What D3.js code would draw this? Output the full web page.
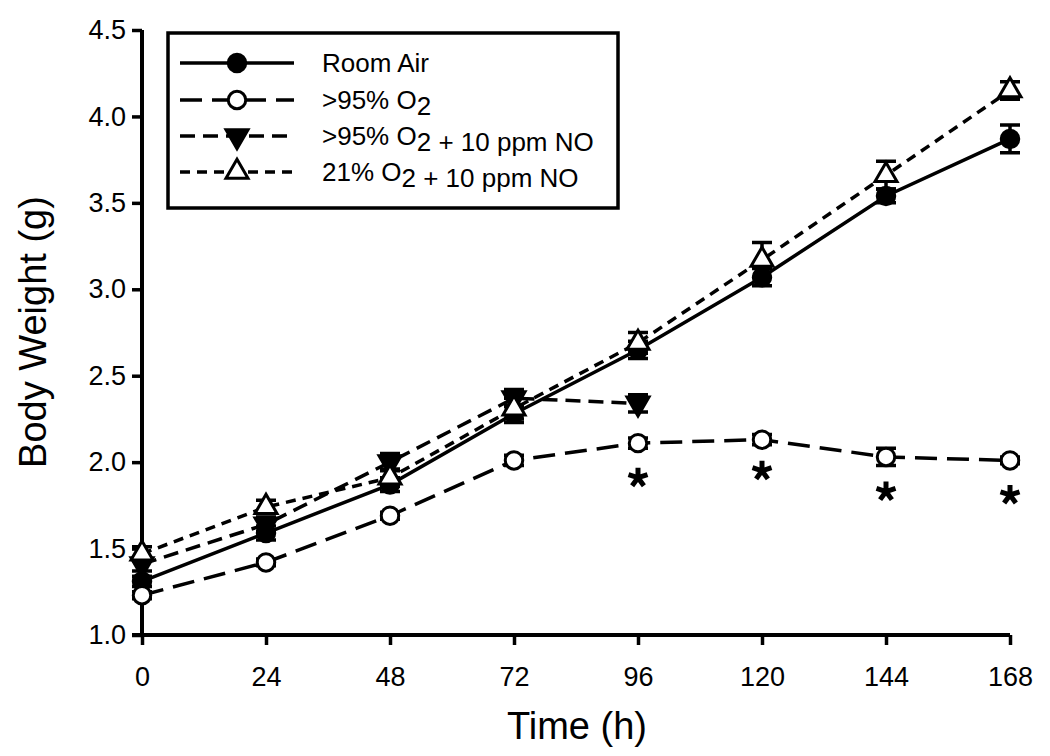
<!DOCTYPE html>
<html><head><meta charset="utf-8">
<script src="https://cdn.jsdelivr.net/npm/d3@7"></script>
<style>body{margin:0;background:#fff}svg{display:block}text{font-family:"Liberation Sans",Arial,sans-serif}</style>
</head><body><svg id="c" width="1050" height="756"></svg>
<script>
const times = [0, 24, 48, 72, 96, 120, 144, 168];
const xTicks = [0, 24, 48, 72, 96, 120, 144, 168];
const yTicks = [1.0, 1.5, 2.0, 2.5, 3.0, 3.5, 4.0, 4.5];
const roomAir    = [1.31, 1.59, 1.87, 2.28, 2.65, 3.07, 3.54, 3.87];
const roomAirErr = [0.03, 0.04, 0.04, 0.05, 0.05, 0.05, 0.04, 0.08];
const o2         = [1.23, 1.42, 1.69, 2.01, 2.11, 2.13, 2.03, 2.01];
const o2Err      = [0.02, 0.02, 0.02, 0.03, 0.03, 0.03, 0.05, 0.02];
const o2NO       = [1.41, 1.64, 2.00, 2.37, 2.34];
const o2NOErr    = [0.04, 0.04, 0.05, 0.05, 0.05];
const airNO      = [1.47, 1.74, 1.91, 2.31, 2.69, 3.17, 3.66, 4.15];
const airNOErr   = [0.04, 0.04, 0.05, 0.06, 0.06, 0.10, 0.08, 0.05];
const starTimes  = [96, 120, 144, 168];
const starValues = [1.91, 1.95, 1.83, 1.81];
const seriesNames = ["Room Air", ">95% O2", ">95% O2 + 10 ppm NO", "21% O2 + 10 ppm NO"];

const svg = d3.select("#c");
const x = d3.scaleLinear().domain([0,168]).range([142,1010]);
const y = d3.scaleLinear().domain([1.0,4.5]).range([635,30]);

const series = [
  {name: seriesNames[0], vals: roomAir, err: roomAirErr, dash: null, sym: d3.symbolCircle, fill: "#000", rot: 0, size: 240},
  {name: seriesNames[1], vals: o2, err: o2Err, dash: "22,10", sym: d3.symbolCircle, fill: "#fff", rot: 0, size: 240},
  {name: seriesNames[2], vals: o2NO, err: o2NOErr, dash: "15,8", sym: d3.symbolTriangle, fill: "#000", rot: 180, size: 210},
  {name: seriesNames[3], vals: airNO, err: airNOErr, dash: "10,7", sym: d3.symbolTriangle, fill: "#fff", rot: 0, size: 210}
];

// axes
const yAxis = d3.axisLeft(y).tickValues(yTicks).tickFormat(d3.format(".1f")).tickSize(10).tickPadding(6);
const gy = svg.append("g").attr("transform","translate(142,0)").call(yAxis);
const xAxis = d3.axisBottom(x).tickValues(xTicks).tickSize(10).tickPadding(22);
const gx = svg.append("g").attr("transform","translate(0,635)").call(xAxis);
[gx, gy].forEach(g => {
  g.select(".domain").attr("stroke","#000").attr("stroke-width",4);
  g.selectAll(".tick line").attr("stroke","#000").attr("stroke-width",3.5);
  g.selectAll(".tick text").attr("fill","#000").style("font-size","27px");
});
gy.select(".domain").attr("d","M-0,30V637");
gx.select(".domain").attr("d","M132,0H1010");

svg.append("text").attr("x",577).attr("y",739).attr("text-anchor","middle").style("font-size","38px").text("Time (h)");
svg.append("text").attr("transform","translate(46,332) rotate(-90)").attr("text-anchor","middle").style("font-size","38px").text("Body Weight (g)");

// series
const line = d3.line().x(d => x(d[0])).y(d => y(d[1]));
series.forEach(s => {
  const pts = s.vals.map((v,i) => [times[i], v]);
  svg.append("path").attr("d", line(pts)).attr("fill","none").attr("stroke","#000")
    .attr("stroke-width",3.5).attr("stroke-dasharray", s.dash);
});
series.forEach(s => {
  const g = svg.append("g");
  s.vals.forEach((v,i) => {
    const cx = x(times[i]), e = s.err[i];
    g.append("path").attr("d",`M${cx},${y(v-e)}V${y(v+e)}M${cx-10},${y(v+e)}H${cx+10}M${cx-10},${y(v-e)}H${cx+10}`)
      .attr("stroke","#000").attr("stroke-width",3.5).attr("fill","none");
  });
  s.vals.forEach((v,i) => {
    g.append("path").attr("d", d3.symbol().type(s.sym).size(s.size)())
      .attr("transform",`translate(${x(times[i])},${y(v)}) rotate(${s.rot})`)
      .attr("fill", s.fill).attr("stroke","#000").attr("stroke-width",3);
  });
});

// significance asterisks (5 arms)
const armAngles = [0, 72, 144, 216, 288];
starTimes.forEach((t,i) => {
  const cx = x(t), cy = y(starValues[i]);
  const d = armAngles.map(a => {
    const r = a*Math.PI/180;
    return `M${cx},${cy}L${cx+10*Math.sin(r)},${cy-10*Math.cos(r)}`;
  }).join("");
  svg.append("path").attr("d", d).attr("stroke","#000").attr("stroke-width",5).attr("stroke-linecap","butt");
});

// legend
const lg = svg.append("g");
lg.append("rect").attr("x",168).attr("y",33).attr("width",450).attr("height",175)
  .attr("fill","#fff").attr("stroke","#000").attr("stroke-width",3.5);
const rowsY = [63, 100, 136, 172];
series.forEach((s,i) => {
  const yy = rowsY[i];
  lg.append("path").attr("d",`M180,${yy}H294`).attr("stroke","#000").attr("stroke-width",3.5)
    .attr("stroke-dasharray", s.dash);
  lg.append("path").attr("d", d3.symbol().type(s.sym).size(s.size)())
    .attr("transform",`translate(237,${yy}) rotate(${s.rot})`)
    .attr("fill", s.fill).attr("stroke","#000").attr("stroke-width",3);
  const parts = s.name.split("O2");
  const t = lg.append("text").attr("x",322).attr("y",yy+9).style("font-size","26px");
  parts.forEach((p,j) => {
    t.append("tspan").text(p);
    if (j < parts.length-1) {
      t.append("tspan").text("O");
      t.append("tspan").attr("dy",6).text("2");
      t.append("tspan").attr("dy",-6).text("");
    }
  });
});
</script></body></html>
